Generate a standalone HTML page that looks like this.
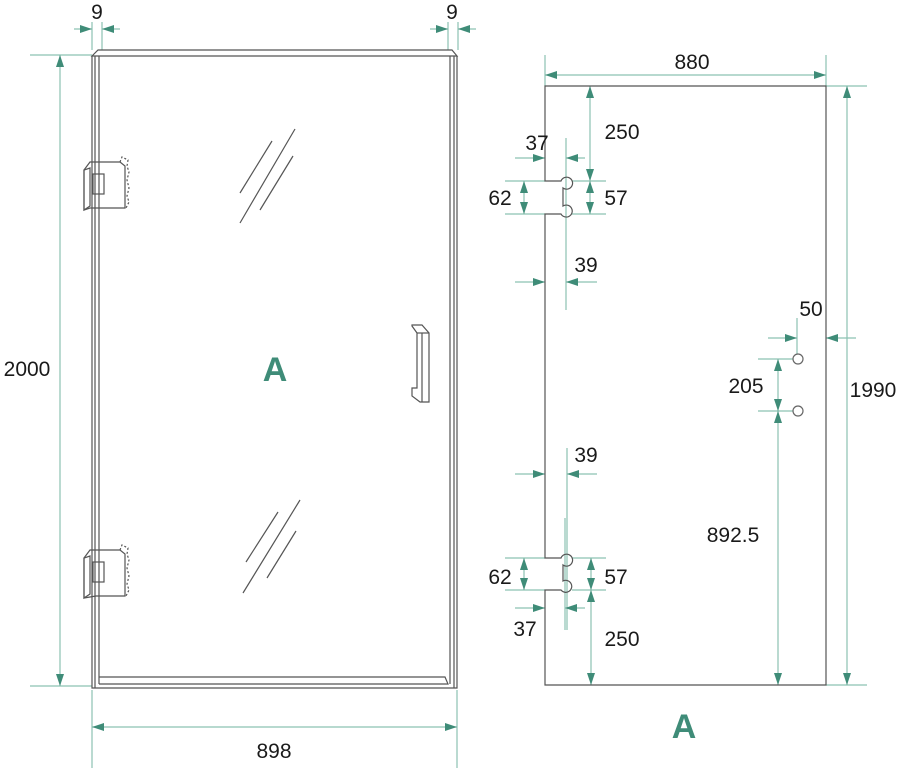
<!DOCTYPE html>
<html><head><style>
body{margin:0;background:#fff}
svg{display:block}
text{font-family:"Liberation Sans",Arial,sans-serif;font-size:21px;fill:#1a1a1a}
</style></head><body>
<svg width="900" height="770" viewBox="0 0 900 770" xmlns="http://www.w3.org/2000/svg">
<defs>
<marker id="a" viewBox="0 0 12 8" refX="12" refY="4" markerWidth="12" markerHeight="8" markerUnits="userSpaceOnUse" orient="auto-start-reverse">
<path d="M0,0 L12,4 L0,8 Z" fill="#3f8c78"/></marker>
</defs>
<g stroke="#8cc2b2" stroke-width="1.2" fill="none">
<line x1="92" y1="22" x2="92" y2="50"/><line x1="102" y1="22" x2="102" y2="50"/>
<line x1="74" y1="29" x2="92" y2="29" marker-end="url(#a)"/><line x1="120" y1="29" x2="102" y2="29" marker-end="url(#a)"/>
<line x1="448" y1="22" x2="448" y2="50"/><line x1="458" y1="22" x2="458" y2="50"/>
<line x1="430" y1="29" x2="448" y2="29" marker-end="url(#a)"/><line x1="476" y1="29" x2="458" y2="29" marker-end="url(#a)"/>
<line x1="30" y1="55" x2="92" y2="55"/><line x1="30" y1="686" x2="92" y2="686"/>
<line x1="60" y1="55" x2="60" y2="686" marker-start="url(#a)" marker-end="url(#a)"/>
<line x1="92" y1="690" x2="92" y2="768"/><line x1="457" y1="690" x2="457" y2="768"/>
<line x1="92" y1="727" x2="457" y2="727" marker-start="url(#a)" marker-end="url(#a)"/>
<line x1="545" y1="55" x2="545" y2="86"/><line x1="826" y1="55" x2="826" y2="86"/>
<line x1="545" y1="75" x2="826" y2="75" marker-start="url(#a)" marker-end="url(#a)"/>
<line x1="826" y1="86" x2="867" y2="86"/><line x1="826" y1="685" x2="867" y2="685"/>
<line x1="847" y1="86" x2="847" y2="685" marker-start="url(#a)" marker-end="url(#a)"/>
<line x1="566" y1="138" x2="566" y2="310"/>
<line x1="515" y1="158" x2="545" y2="158" marker-end="url(#a)"/><line x1="585" y1="158" x2="566" y2="158" marker-end="url(#a)"/>
<line x1="590" y1="86" x2="590" y2="181" marker-start="url(#a)" marker-end="url(#a)"/>
<line x1="505" y1="181" x2="545" y2="181"/><line x1="505" y1="214" x2="545" y2="214"/>
<line x1="572" y1="181" x2="606" y2="181"/><line x1="572" y1="214" x2="606" y2="214"/>
<line x1="524" y1="181" x2="524" y2="214" marker-start="url(#a)" marker-end="url(#a)"/>
<line x1="590" y1="181" x2="590" y2="214" marker-start="url(#a)" marker-end="url(#a)"/>
<line x1="515" y1="282" x2="545" y2="282" marker-end="url(#a)"/><line x1="597" y1="282" x2="566" y2="282" marker-end="url(#a)"/>
<line x1="567" y1="448" x2="567" y2="630"/><line x1="565" y1="518" x2="565" y2="630"/>
<line x1="515" y1="474" x2="545" y2="474" marker-end="url(#a)"/><line x1="597" y1="474" x2="567" y2="474" marker-end="url(#a)"/>
<line x1="505" y1="558" x2="545" y2="558"/><line x1="505" y1="590" x2="545" y2="590"/>
<line x1="572" y1="558" x2="606" y2="558"/><line x1="572" y1="590" x2="606" y2="590"/>
<line x1="524" y1="558" x2="524" y2="590" marker-start="url(#a)" marker-end="url(#a)"/>
<line x1="591" y1="558" x2="591" y2="590" marker-start="url(#a)" marker-end="url(#a)"/>
<line x1="515" y1="608" x2="545" y2="608" marker-end="url(#a)"/><line x1="585" y1="608" x2="565" y2="608" marker-end="url(#a)"/>
<line x1="591" y1="590" x2="591" y2="685" marker-start="url(#a)" marker-end="url(#a)"/>
<line x1="797" y1="318" x2="797" y2="354"/>
<line x1="768" y1="338" x2="797" y2="338" marker-end="url(#a)"/><line x1="856" y1="338" x2="826" y2="338" marker-end="url(#a)"/>
<line x1="758" y1="359" x2="793" y2="359"/><line x1="758" y1="411" x2="793" y2="411"/>
<line x1="778" y1="359" x2="778" y2="411" marker-start="url(#a)" marker-end="url(#a)"/>
<line x1="778" y1="411" x2="778" y2="685" marker-start="url(#a)" marker-end="url(#a)"/>
</g>
<g stroke="#555" stroke-width="1.2" fill="none">
<path d="M92,56 L92,688 L457,688 L457,56"/>
<line x1="95" y1="56" x2="95" y2="688"/>
<line x1="99" y1="56" x2="99" y2="684"/>
<line x1="450" y1="56" x2="450" y2="684"/>
<line x1="454" y1="56" x2="454" y2="688"/>
<path d="M92,56 L98,50 L452,50 L457,56 Z"/>
<path d="M99,677 L445,677 L448,684 L99,684"/>
<path d="M412,325 L422,325 L429,333 L429,402 L420,402 L412,396 L412,388 L417,388 L417,333 L412,326 Z"/>
<line x1="417" y1="333" x2="429" y2="333"/>
<line x1="422" y1="333" x2="422" y2="402"/>
<path d="M84,170 L90,162 L120,162 L125,166 L125,208 L96,208 L90,208 L84,210 Z"/>
<path d="M84,170 L84,210 L90,206 L90,168 Z"/>
<rect x="93" y="174" width="11" height="20"/>
<path d="M120,162 L122,157 L128,160 L127,166 L129,172 L127,180 L129,188 L127,196 L129,202 L126,208" stroke-dasharray="2,2"/>
<path d="M84,558 L90,550 L120,550 L125,554 L125,596 L96,596 L84,598 Z"/>
<path d="M84,558 L84,598 L90,594 L90,556 Z"/>
<rect x="93" y="562" width="11" height="20"/>
<path d="M120,550 L122,545 L128,548 L127,554 L129,560 L127,568 L129,576 L127,584 L129,590 L126,596" stroke-dasharray="2,2"/>
<line x1="240" y1="193" x2="272" y2="141"/><line x1="240" y1="223" x2="295" y2="129"/><line x1="260" y1="210" x2="293" y2="156"/>
<line x1="246" y1="562" x2="278" y2="512"/><line x1="243" y1="593" x2="300" y2="500"/><line x1="267" y1="578" x2="296" y2="531"/>
<path d="M545,86 L826,86 L826,685 L545,685 L545,590 L561,590 A6,6 0 1 0 563,581 L563,565 A6,6 0 1 0 561,558 L545,558 L545,214 L561,214 A6,6 0 1 0 563,206 L563,188 A6,6 0 1 0 561,181 L545,181 Z"/>
<circle cx="798" cy="359" r="5" stroke="#666"/>
<circle cx="798" cy="411" r="5" stroke="#666"/>
</g>
<g>
<text x="97" y="19" text-anchor="middle">9</text>
<text x="452" y="19" text-anchor="middle">9</text>
<text x="27" y="376" text-anchor="middle">2000</text>
<text x="274" y="758" text-anchor="middle">898</text>
<text x="692" y="69" text-anchor="middle">880</text>
<text x="873" y="397" text-anchor="middle">1990</text>
<text x="537" y="150" text-anchor="middle">37</text>
<text x="622" y="139" text-anchor="middle">250</text>
<text x="500" y="205" text-anchor="middle">62</text>
<text x="616" y="205" text-anchor="middle">57</text>
<text x="586" y="272" text-anchor="middle">39</text>
<text x="586" y="462" text-anchor="middle">39</text>
<text x="500" y="584" text-anchor="middle">62</text>
<text x="616" y="584" text-anchor="middle">57</text>
<text x="525" y="636" text-anchor="middle">37</text>
<text x="622" y="646" text-anchor="middle">250</text>
<text x="811" y="316" text-anchor="middle">50</text>
<text x="746" y="393" text-anchor="middle">205</text>
<text x="733" y="542" text-anchor="middle">892.5</text>
<text x="275" y="381" text-anchor="middle" style="font-size:34px;font-weight:bold;fill:#3f8c78">A</text>
<text x="684" y="738" text-anchor="middle" style="font-size:34px;font-weight:bold;fill:#3f8c78">A</text>
</g>
</svg>
</body></html>
